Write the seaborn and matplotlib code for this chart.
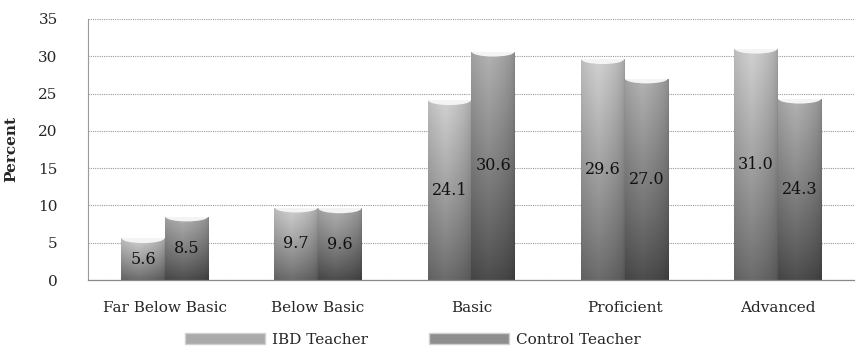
import numpy as np
import pandas as pd
import matplotlib
matplotlib.use("Agg")
import matplotlib.pyplot as plt
import seaborn as sns
from matplotlib.patches import Patch, Ellipse
from matplotlib.ticker import FixedLocator

categories = ["Far Below Basic", "Below Basic", "Basic", "Proficient", "Advanced"]
ibd_values = [5.6, 9.7, 24.1, 29.6, 31.0]
control_values = [8.5, 9.6, 30.6, 27.0, 24.3]
series_names = ["IBD Teacher", "Control Teacher"]
y_ticks = [0, 5, 10, 15, 20, 25, 30, 35]

df = pd.DataFrame({
    "Level": categories * 2,
    "Percent": ibd_values + control_values,
    "Group": [series_names[0]] * len(categories) + [series_names[1]] * len(categories),
})

sns.set_style("white")
plt.rcParams["font.family"] = ["DejaVu Serif"]

fig = plt.figure(figsize=(8.57, 3.5), dpi=100)
ax = fig.add_axes([0.103, 0.2, 0.894, 0.746])

sns.barplot(data=df, x="Level", y="Percent", hue="Group", order=categories,
            hue_order=series_names, width=0.57, gap=0, ax=ax, legend=False,
            palette=["#a0a0a0", "#707070"], edgecolor="none", saturation=1)

ax.set_ylim(0, 35)
ax.set_xlim(-0.5, len(categories) - 0.5)
ax.set_yticks(y_ticks)
ax.yaxis.grid(True, linestyle=(0, (1, 1)), color="#9a9a9a", linewidth=0.8)
ax.set_axisbelow(True)
for side in ["top", "right"]:
    ax.spines[side].set_visible(False)
ax.spines["left"].set_linestyle((0, (1, 1)))
ax.spines["left"].set_color("#9a9a9a")
ax.spines["bottom"].set_color("#8a8a8a")
ax.spines["bottom"].set_linewidth(0.9)

ax.set_xlabel("")
ax.set_ylabel("Percent", fontsize=11, fontweight="bold", labelpad=14)
ax.tick_params(axis="y", length=0, labelsize=11, pad=22)
ax.tick_params(axis="x", which="major", length=0, labelsize=11, pad=15)
ax.xaxis.set_minor_locator(FixedLocator(np.arange(-0.5, len(categories), 1.0)))
ax.tick_params(axis="x", which="minor", length=4, color="#8a8a8a", direction="out")

# cylinder shading: bright near the top, dark toward the base, darker rims
def shade(top, bottom):
    xs = np.linspace(0, 1, 64)
    h = 1 - np.abs(xs - 0.4) / 0.6
    h = 0.75 + 0.25 * np.clip(h, 0, 1) ** 0.5
    ys = np.linspace(0, 1, 128)[:, None]
    base = bottom + (top - bottom) * ys ** 0.9
    return np.clip(base * h[None, :], 0, 1)

grad_ibd = shade(0.82, 0.42)
grad_ctl = shade(0.70, 0.30)

bars = [p for p in ax.patches]
n = len(categories)
for i, p in enumerate(bars):
    x0, y0 = p.get_x(), p.get_y()
    w, h = p.get_width(), p.get_height()
    g = grad_ibd if i < n else grad_ctl
    im = ax.imshow(g, cmap="gray", vmin=0, vmax=1, origin="lower",
                   extent=[x0, x0 + w, y0, y0 + h], aspect="auto", zorder=2,
                   interpolation="bilinear")
    im.set_clip_path(p)
    p.set_facecolor("none")
    cap = Ellipse((x0 + w / 2, y0 + h), w * 0.98, 1.3,
                  facecolor="#f4f4f4", edgecolor="none", zorder=3)
    ax.add_patch(cap)
    cap.set_clip_path(p)
    ax.text(x0 + w / 2, h / 2, f"{h:.1f}", ha="center", va="center",
            fontsize=11.5, color="#111111", zorder=4)

handles = [Patch(facecolor="#aaaaaa", edgecolor="#d0d0d0", label=series_names[0]),
           Patch(facecolor="#8e8e8e", edgecolor="#d0d0d0", label=series_names[1])]
fig.legend(handles=handles, loc="lower center", bbox_to_anchor=(0.482, -0.03),
           ncol=2, frameon=False, fontsize=11, handlelength=5.2, handleheight=0.7,
           columnspacing=4.0, handletextpad=0.5)

fig.savefig("out.png", dpi=100)
